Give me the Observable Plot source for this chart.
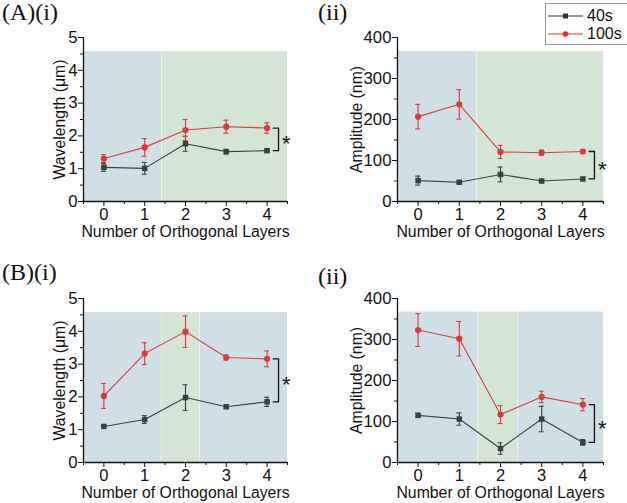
<!DOCTYPE html>
<html>
<head>
<meta charset="utf-8">
<script src="https://cdn.jsdelivr.net/npm/d3@7"></script>
<script src="https://cdn.jsdelivr.net/npm/@observablehq/plot@0.6"></script>
<style>
  body { margin: 0; background: #fff; }
  #fig { position: relative; width: 627px; height: 503px; overflow: hidden; background: #fff;
         font-family: "Liberation Sans", Arial, sans-serif; }
  .panel { position: absolute; }
  .tag { position: absolute; font-family: "Liberation Serif", "Times New Roman", serif;
         font-size: 24px; line-height: 1; color: #111; white-space: nowrap; }
  .legend { position: absolute; left: 545px; top: 3px; width: 84px; height: 40px;
            border: 1px solid #9a9a9a; background: #fff; }
  .legend .row { position: absolute; left: 0; height: 18px; display: flex; align-items: center; }
  .legend span { font-size: 16px; color: #111; margin-left: 3px; }
</style>
</head>
<body>
<div id="fig"></div>
<script>
// Number of orthogonal layers (x categories)
const layers = [0, 1, 2, 3, 4];
const xTicks = [0, 1, 2, 3, 4];
const xMinor = [-0.5, 0.5, 1.5, 2.5, 3.5, 4.5];

// (A)(i) wavelength, µm
const aWave40 = [1.04, 1.01, 1.76, 1.52, 1.55];
const aWave40Err = [0.12, 0.18, 0.23, 0.07, 0.04];
const aWave100 = [1.31, 1.65, 2.18, 2.28, 2.24];
const aWave100Err = [0.12, 0.27, 0.32, 0.20, 0.16];

// (A)(ii) amplitude, nm
const aAmp40 = [51, 47, 66, 50, 55];
const aAmp40Err = [11, 3, 18, 3, 3];
const aAmp100 = [207, 237, 121, 119, 122];
const aAmp100Err = [30, 36, 16, 6, 4];

// (B)(i) wavelength, µm
const bWave40 = [1.10, 1.31, 1.98, 1.70, 1.85];
const bWave40Err = [0.03, 0.12, 0.39, 0.04, 0.14];
const bWave100 = [2.03, 3.32, 3.99, 3.20, 3.16];
const bWave100Err = [0.38, 0.33, 0.48, 0.08, 0.24];

// (B)(ii) amplitude, nm
const bAmp40 = [115, 106, 34, 106, 49];
const bAmp40Err = [5, 15, 14, 31, 7];
const bAmp100 = [323, 302, 117, 160, 141];
const bAmp100Err = [40, 42, 22, 14, 15];

// Background layer bands (in layer units)
const bandsA = [{from: -0.5, to: 1.42, kind: "blue"}, {from: 1.42, to: 4.5, kind: "green"}];
const bandsBi = [{from: -0.5, to: 1.41, kind: "blue"}, {from: 1.41, to: 2.35, kind: "green"}, {from: 2.35, to: 4.5, kind: "blue"}];
const bandsBii = [{from: -0.5, to: 1.45, kind: "blue"}, {from: 1.45, to: 2.42, kind: "green"}, {from: 2.42, to: 4.5, kind: "blue"}];

const waveTicks = [0, 1, 2, 3, 4, 5];
const waveMinor = [0.5, 1.5, 2.5, 3.5, 4.5];
const ampTicks = [0, 100, 200, 300, 400];
const ampMinor = [50, 150, 250, 350];

const seriesNames = ["40s", "100s"];
const colors = {"40s": "#36443f", "100s": "#d93b38"};
const bandFill = {blue: "#d0dfe6", green: "#d4e4d5"};
const font = "'Liberation Sans', Arial, sans-serif";

function rows(vals, errs, series) {
  return layers.map((x, i) => ({x, v: vals[i], e: errs[i], series}));
}

function seriesMarks(data, symbol) {
  const c = colors[data[0].series];
  return [
    Plot.line(data, {x: "x", y: "v", stroke: c, strokeWidth: 1.1}),
    Plot.ruleX(data, {x: "x", y1: d => d.v - d.e, y2: d => d.v + d.e, stroke: c, strokeWidth: 1.1}),
    Plot.ruleY(data, {y: d => d.v + d.e, x1: d => d.x - 0.06, x2: d => d.x + 0.06, stroke: c, strokeWidth: 1.1}),
    Plot.ruleY(data, {y: d => d.v - d.e, x1: d => d.x - 0.06, x2: d => d.x + 0.06, stroke: c, strokeWidth: 1.1}),
    Plot.dot(data, {x: "x", y: "v", symbol, r: 3.1, fill: c, stroke: "none"})
  ];
}

function panel(cfg) {
  const d40 = rows(cfg.s40, cfg.e40, "40s");
  const d100 = rows(cfg.s100, cfg.e100, "100s");
  const last = layers.length - 1;
  const lo = cfg.s40[last], hi = cfg.s100[last];
  const xb = layers[last];
  const bracket = [
    {x: xb + 0.15, y: hi}, {x: xb + 0.28, y: hi},
    {x: xb + 0.28, y: lo}, {x: xb + 0.15, y: lo}
  ];
  const svg = Plot.plot({
    width: 313, height: 250,
    marginLeft: 83, marginRight: cfg.marginRight, marginTop: 37, marginBottom: 49,
    style: {fontFamily: font, fontSize: "16px", color: "#111", background: "transparent", overflow: "visible"},
    x: {domain: [-0.5, 4.5]},
    y: {domain: cfg.yDomain},
    color: {type: "identity"},
    marks: [
      Plot.rect(cfg.bands, {x1: "from", x2: "to", y1: 0, y2: cfg.bandTop, fill: d => bandFill[d.kind], insetLeft: 0.5}),
      Plot.axisX(xTicks, {tickSize: 5, tickPadding: 2, label: null, stroke: "#111", fontSize: 16.5}),
      Plot.axisX(xMinor, {tickSize: 3, tickFormat: () => "", label: null, stroke: "#111"}),
      Plot.axisY(cfg.yTicks, {tickSize: 5, tickPadding: 1, label: null, stroke: "#111", fontSize: 16.8}),
      Plot.axisY(cfg.yMinor, {tickSize: 3, tickFormat: () => "", label: null, stroke: "#111"}),
      Plot.ruleX([-0.5], {stroke: "#111", strokeWidth: 1.3}),
      Plot.ruleY([0], {stroke: "#111", strokeWidth: 1.3}),
      Plot.text(["Number of Orthogonal Layers"], {frameAnchor: "bottom", dy: 30, lineAnchor: "middle", textAnchor: "middle", fontSize: 15.8, fill: "#111"}),
      Plot.text([cfg.yLabel], {frameAnchor: "left", dx: cfg.yLabelDx, rotate: -90, lineAnchor: "middle", textAnchor: "middle", fontSize: 15.8, fill: "#111"}),
      ...seriesMarks(d40, "square"),
      ...seriesMarks(d100, "circle"),
      Plot.line(bracket, {x: "x", y: "y", stroke: "#111", strokeWidth: 1.3}),
      Plot.text([{x: xb + 0.47, y: (lo + hi) / 2}], {x: "x", y: "y", text: () => "*", fontSize: 22, dy: 5, fill: "#111"})
    ]
  });
  svg.classList.add("panel");
  svg.style.left = cfg.left + "px";
  svg.style.top = cfg.top + "px";
  return svg;
}

const fig = document.getElementById("fig");

fig.append(panel({left: 0, top: 0, marginRight: 26, yDomain: [0, 5], yTicks: waveTicks, yMinor: waveMinor,
  yLabel: "Wavelength (μm)", yLabelDx: -24, bands: bandsA, bandTop: 4.57,
  s40: aWave40, e40: aWave40Err, s100: aWave100, e100: aWave100Err}));
fig.append(panel({left: 314, top: 0, marginRight: 24, yDomain: [0, 400], yTicks: ampTicks, yMinor: ampMinor,
  yLabel: "Amplitude (nm)", yLabelDx: -41, bands: bandsA, bandTop: 366,
  s40: aAmp40, e40: aAmp40Err, s100: aAmp100, e100: aAmp100Err}));
fig.append(panel({left: 0, top: 261, marginRight: 26, yDomain: [0, 5], yTicks: waveTicks, yMinor: waveMinor,
  yLabel: "Wavelength (μm)", yLabelDx: -24, bands: bandsBi, bandTop: 4.57,
  s40: bWave40, e40: bWave40Err, s100: bWave100, e100: bWave100Err}));
fig.append(panel({left: 314, top: 261, marginRight: 24, yDomain: [0, 400], yTicks: ampTicks, yMinor: ampMinor,
  yLabel: "Amplitude (nm)", yLabelDx: -41, bands: bandsBii, bandTop: 367,
  s40: bAmp40, e40: bAmp40Err, s100: bAmp100, e100: bAmp100Err}));

// Panel tags
[["(A)(i)", 2, 0], ["(ii)", 318, 0], ["(B)(i)", 2, 260], ["(ii)", 318, 264]].forEach(([t, x, y]) => {
  const el = document.createElement("div");
  el.className = "tag";
  el.textContent = t;
  el.style.left = x + "px";
  el.style.top = y + "px";
  fig.append(el);
});

// Legend
const legend = document.createElement("div");
legend.className = "legend";
seriesNames.forEach((name, i) => {
  const row = document.createElement("div");
  row.className = "row";
  row.style.top = (3 + i * 18) + "px";
  const ns = "http://www.w3.org/2000/svg";
  const s = document.createElementNS(ns, "svg");
  s.setAttribute("width", 38); s.setAttribute("height", 18);
  const ln = document.createElementNS(ns, "line");
  ln.setAttribute("x1", 2); ln.setAttribute("x2", 37); ln.setAttribute("y1", 9); ln.setAttribute("y2", 9);
  ln.setAttribute("stroke", name === "40s" ? "#333" : "#f02a2a"); ln.setAttribute("stroke-width", 1.2);
  s.append(ln);
  if (name === "40s") {
    const r = document.createElementNS(ns, "rect");
    r.setAttribute("x", 17); r.setAttribute("y", 6.5); r.setAttribute("width", 5); r.setAttribute("height", 5);
    r.setAttribute("fill", "#333"); s.append(r);
  } else {
    const c = document.createElementNS(ns, "circle");
    c.setAttribute("cx", 19.5); c.setAttribute("cy", 9); c.setAttribute("r", 2.8);
    c.setAttribute("fill", "#f02a2a"); s.append(c);
  }
  const lab = document.createElement("span");
  lab.textContent = name;
  row.append(s, lab);
  legend.append(row);
});
fig.append(legend);
</script>
</body>
</html>
